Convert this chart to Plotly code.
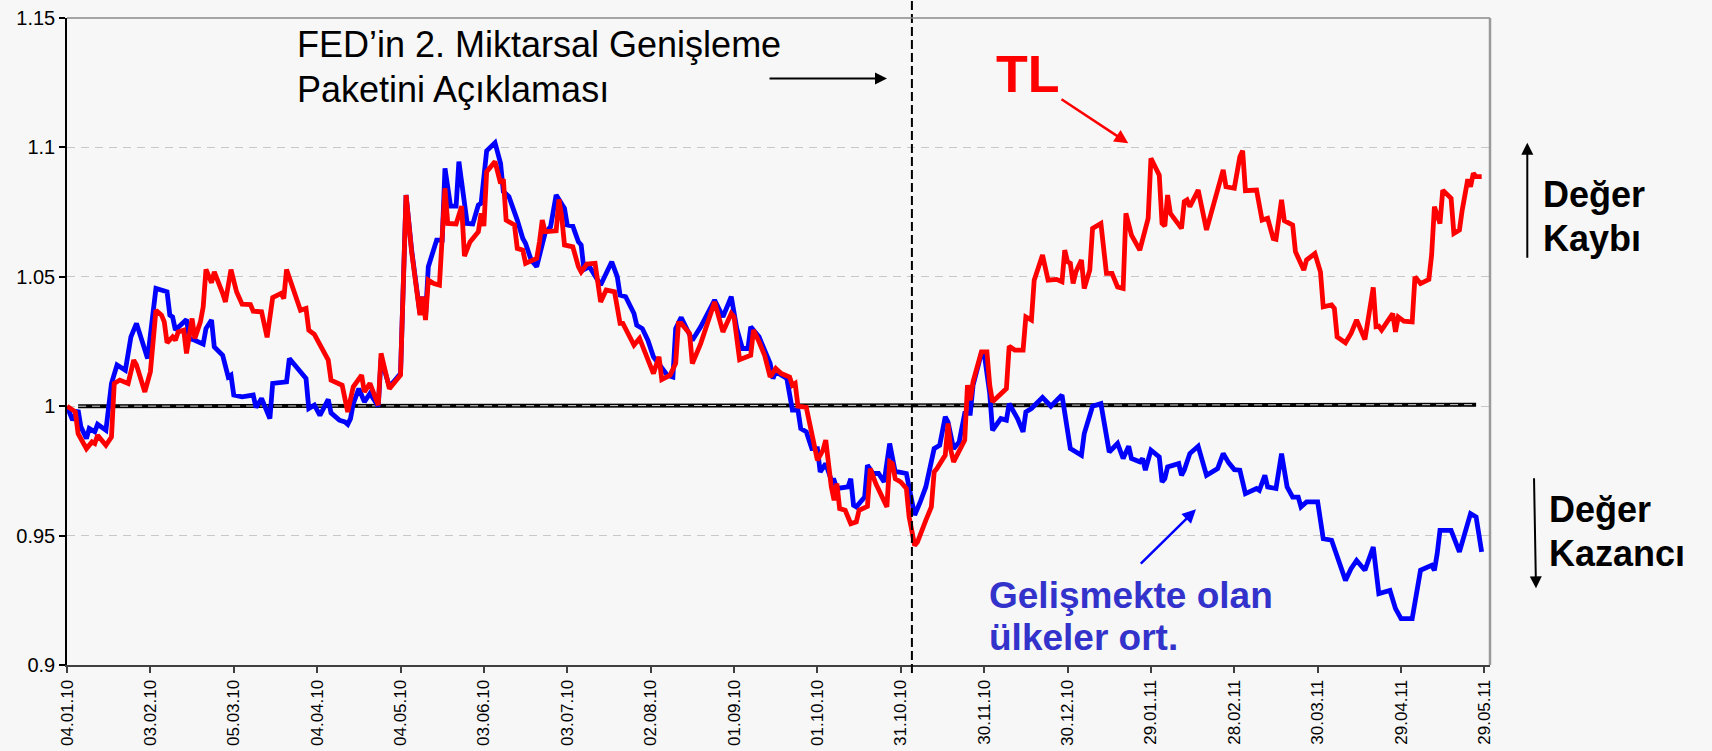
import pandas as pd
import plotly.graph_objects as go

# ---------------- data ----------------
start_date = "2010-01-04"
x_range_end = "2011-05-31"
tick_step_days = 30
fed_qe2_date = "2010-11-04"

blue_days = [0, 2, 4, 5, 7, 8, 10, 11, 14, 16, 18, 21, 23, 25, 29, 31, 32, 36, 37, 38, 39, 43, 44, 46, 49, 50, 52, 53,
             56, 58, 59, 60, 63, 67, 68, 70, 73, 74, 79, 80, 86, 87, 89, 91, 94, 95, 98, 100, 101, 102, 103, 105, 107,
             109, 112, 113, 116, 120, 122,
             124, 127, 128, 129, 130, 133, 135, 136, 138, 140, 141, 142, 144, 146, 148, 149, 151, 154, 156, 157, 159,
             162, 164, 165, 167, 169, 172, 174, 176, 179, 180, 182, 184, 185, 186, 188, 192, 196, 198, 199, 201, 204,
             205, 207, 209, 211, 212, 214, 216, 218, 219, 221, 225, 228, 230, 233, 236, 239, 241, 243, 245, 246, 249,
             253, 254, 255, 259, 261, 263, 264, 266, 268, 270, 271, 273, 275, 276, 277, 281, 282, 283, 284, 287, 288,
             290, 292, 294, 296, 298, 299, 302, 303, 305, 307, 309, 312, 314, 316, 317, 319, 321, 323, 325, 326, 329,
             330, 332, 333, 336, 338, 339, 342, 344, 345, 347, 351, 354, 358, 361, 365, 366, 369, 372, 375, 378,
             380, 382, 383, 386, 387, 388, 390, 393, 394, 395, 396, 400, 401, 402, 404, 407, 410, 414, 416, 418, 420,
             422, 424, 428, 429, 431, 432, 435, 437, 439, 441, 443, 444, 446, 450, 452, 455, 457, 460, 462, 464, 467,
             470, 472, 476, 478, 480, 484, 485, 487, 491, 492, 493, 494, 498, 501, 505, 507, 509]
blue_vals = [1.0000, 0.9946, 0.9985, 0.9920, 0.9875, 0.9914, 0.9901, 0.9930, 0.9907, 1.0088, 1.0159, 1.0139, 1.0268,
             1.0320, 1.0184, 1.0345, 1.0455, 1.0442, 1.0352, 1.0345, 1.0294, 1.0335, 1.0262, 1.0255, 1.0240, 1.0300,
             1.0333, 1.0229, 1.0197, 1.0113, 1.0120, 1.0043, 1.0036, 1.0043, 0.9995, 1.0030, 0.9952, 1.0088, 1.0094,
             1.0184, 1.0107, 0.9991, 1.0004, 0.9965, 1.0026, 0.9974, 0.9946, 0.9939, 0.9930, 0.9952, 1.0010, 1.0068,
             1.0017, 1.0049, 1.0000, 1.0184, 1.0075, 1.0126, 1.0816,
             1.0603, 1.0358, 1.0423, 1.0345, 1.0539, 1.0642, 1.0642, 1.0919, 1.0773, 1.0773, 1.0945, 1.0868, 1.0706,
             1.0704, 1.0777, 1.0784, 1.0987, 1.1018, 1.0938, 1.0829, 1.0810, 1.0719, 1.0648, 1.0629, 1.0565, 1.0539,
             1.0668, 1.0694, 1.0816, 1.0764, 1.0700, 1.0696, 1.0635, 1.0623, 1.0528, 1.0539, 1.0468, 1.0558, 1.0500,
             1.0429, 1.0423, 1.0358, 1.0313, 1.0300, 1.0255, 1.0191, 1.0178, 1.0152, 1.0120, 1.0113, 1.0300, 1.0343,
             1.0255, 1.0307, 1.0345, 1.0410, 1.0345, 1.0423, 1.0300, 1.0223, 1.0223, 1.0307, 1.0268,
             1.0165, 1.0107, 1.0133, 1.0107, 0.9985, 0.9985, 0.9914, 0.9901, 0.9836, 0.9836, 0.9746, 0.9778, 0.9714,
             0.9714, 0.9682, 0.9688, 0.9720, 0.9617, 0.9611, 0.9649, 0.9772, 0.9740, 0.9740, 0.9707, 0.9856, 0.9746,
             0.9746, 0.9740, 0.9682, 0.9579, 0.9630, 0.9688, 0.9836, 0.9849, 0.9959, 0.9939, 0.9836, 0.9862, 0.9972,
             0.9972, 1.0081, 1.0204, 1.0204, 1.0049, 0.9907, 0.9952, 0.9946, 1.0010, 0.9952, 0.9901, 0.9978, 0.9991,
             1.0034, 1.0000, 1.0043, 0.9836, 0.9810, 0.9894, 1.0000, 1.0010, 0.9823, 0.9856,
             0.9798, 0.9845, 0.9798, 0.9785, 0.9798, 0.9753, 0.9830, 0.9804, 0.9707, 0.9720, 0.9765, 0.9778, 0.9733,
             0.9753, 0.9817, 0.9845, 0.9733, 0.9759, 0.9817, 0.9781, 0.9755, 0.9753, 0.9662, 0.9682, 0.9675, 0.9733,
             0.9688, 0.9682, 0.9817, 0.9688, 0.9649, 0.9649, 0.9611, 0.9630, 0.9630, 0.9488, 0.9482, 0.9417, 0.9327,
             0.9372, 0.9404, 0.9366, 0.9456, 0.9276, 0.9288, 0.9218, 0.9179, 0.9179, 0.9237, 0.9366, 0.9385, 0.9366,
             0.9430, 0.9520, 0.9520, 0.9437, 0.9585, 0.9572, 0.9437]

red_days = [0, 3, 4, 7, 9, 10, 11, 14, 16, 17, 19, 22, 24, 25, 28, 30, 32, 34, 35, 36, 38, 39, 40, 42, 43, 45, 46, 48,
            49, 50, 52, 53, 56, 57, 59, 61, 63, 66, 67, 70, 72, 74, 77, 78, 79, 82, 84, 86, 87, 89, 92, 94, 95, 99, 101,
            103, 106, 107, 109, 111, 112, 113, 116, 120, 122,
            124, 127, 128, 129, 130, 132, 134, 136, 137, 140, 142, 143, 145, 148, 149, 150, 151, 154, 156, 157, 158,
            161, 162, 164, 165, 169, 170, 171, 172, 176, 177, 178, 179, 182, 184, 185, 187, 190, 192, 194, 197, 198,
            199, 200, 204, 206, 208, 211, 213, 214, 217, 219, 220, 221, 224, 225, 228, 233, 236, 239, 240, 242, 246,
            247, 249,
            251, 253, 255, 257, 260, 261, 262, 263, 266, 268, 270, 272, 273, 275, 276, 277, 278, 280, 282, 284, 285,
            288, 289, 291, 295, 296, 297, 298, 300, 302, 303, 305, 306, 309, 311, 312, 313, 316, 317, 318, 319, 323,
            324, 325, 326, 329, 331, 332, 333, 338, 339, 341, 344, 345, 347, 348, 351, 353, 356, 358, 359, 360, 361,
            362, 363, 365, 366, 368, 369, 372, 374, 376, 378,
            380, 381, 383, 386, 389, 390, 393, 394, 395, 396, 397, 399, 401, 402, 403, 404, 407, 410, 414, 416, 417,
            420, 422, 423, 424, 427, 428, 430, 431, 432, 434, 435, 437, 438, 441, 442, 445, 446, 449, 451, 452, 455,
            456, 457, 460, 462, 464, 467, 470, 471, 472, 473, 477, 478, 479, 481, 484, 485, 487, 490, 491, 492, 494,
            495, 498, 499, 501, 502, 504, 505, 506, 507, 509]
red_vals = [1.0000, 0.9978, 0.9894, 0.9836, 0.9862, 0.9856, 0.9888, 0.9849, 0.9881, 1.0088, 1.0101, 1.0088, 1.0178,
            1.0159, 1.0055, 1.0133, 1.0371, 1.0352, 1.0326, 1.0245, 1.0268, 1.0255, 1.0287, 1.0294, 1.0204, 1.0339,
            1.0262, 1.0326, 1.0384, 1.0528, 1.0477, 1.0519, 1.0436, 1.0403, 1.0528, 1.0442, 1.0394, 1.0393, 1.0367,
            1.0365, 1.0266, 1.0420, 1.0436, 1.0416, 1.0528, 1.0436, 1.0371, 1.0378, 1.0294, 1.0278, 1.0217, 1.0178,
            1.0101, 1.0081, 0.9978, 1.0075, 1.0120, 1.0055, 1.0088, 1.0026, 1.0004, 1.0204, 1.0068, 1.0120, 1.0816,
            1.0597, 1.0352, 1.0423, 1.0333, 1.0487, 1.0474, 1.0468, 1.0842, 1.0706, 1.0704, 1.0773, 1.0580, 1.0635,
            1.0674, 1.0745, 1.0696, 1.0906, 1.0945, 1.0861, 1.0877, 1.0719, 1.0700, 1.0610, 1.0603, 1.0552, 1.0571,
            1.0635, 1.0719, 1.0674, 1.0678, 1.0799, 1.0732, 1.0623, 1.0616, 1.0539, 1.0519, 1.0549, 1.0552, 1.0403,
            1.0449, 1.0442, 1.0378, 1.0320, 1.0320, 1.0236, 1.0262, 1.0204, 1.0126, 1.0191, 1.0103, 1.0120, 1.0165,
            1.0320, 1.0320, 1.0281, 1.0165, 1.0242, 1.0403, 1.0287, 1.0358, 1.0345, 1.0180, 1.0197, 1.0294, 1.0249,
            1.0197, 1.0113, 1.0146, 1.0126, 1.0113, 1.0081, 1.0088, 1.0000, 0.9995, 0.9894, 0.9791, 0.9830, 0.9869,
            0.9688, 0.9637, 0.9701, 0.9604, 0.9598, 0.9546, 0.9553, 0.9598, 0.9613, 0.9759, 0.9701, 0.9611, 0.9785,
            0.9778, 0.9720, 0.9707, 0.9682, 0.9572, 0.9462, 0.9475, 0.9559, 0.9611, 0.9746, 0.9759, 0.9811, 0.9933,
            0.9830, 0.9785, 0.9869, 1.0081, 1.0023, 1.0094, 1.0210, 1.0210, 1.0081, 1.0017, 1.0068, 1.0232, 1.0217,
            1.0217, 1.0345, 1.0333, 1.0487, 1.0584, 1.0487, 1.0490, 1.0481, 1.0603, 1.0558, 1.0552, 1.0474, 1.0519,
            1.0565, 1.0455, 1.0526, 1.0687, 1.0706, 1.0513, 1.0513, 1.0461,
            1.0455, 1.0745, 1.0661, 1.0603, 1.0726, 1.0958, 1.0893, 1.0706, 1.0696, 1.0816, 1.0745, 1.0713, 1.0687,
            1.0790, 1.0797, 1.0771, 1.0835, 1.0681, 1.0829, 1.0913, 1.0848, 1.0842, 1.0964, 1.0987, 1.0833, 1.0833,
            1.0835, 1.0719, 1.0722, 1.0726, 1.0648, 1.0645, 1.0797, 1.0717, 1.0700, 1.0597, 1.0526, 1.0565, 1.0590,
            1.0519, 1.0384, 1.0391, 1.0378, 1.0268, 1.0245, 1.0281, 1.0333, 1.0258, 1.0459, 1.0307, 1.0309, 1.0294,
            1.0358, 1.0287, 1.0345, 1.0329, 1.0326, 1.0500, 1.0474, 1.0490, 1.0584, 1.0771, 1.0706, 1.0835, 1.0803,
            1.0668, 1.0681, 1.0758, 1.0877, 1.0848, 1.0900, 1.0887, 1.0887]

base_days = [4, 507]
base_vals = [1.0, 1.0006]

ytick_vals = [0.9, 0.95, 1.0, 1.05, 1.1, 1.15]
ytick_text = ["0.9", "0.95", "1", "1.05", "1.1", "1.15"]
y_range = [0.9, 1.15]

fed_lines = ["FED’in 2. Miktarsal Genişleme", "Paketini Açıklaması"]
tl_label = "TL"
em_lines = ["Gelişmekte olan", "ülkeler ort."]
loss_lines = ["Değer", "Kaybı"]
gain_lines = ["Değer", "Kazancı"]

# ---------------- layout helpers ----------------
W, H = 1712, 751
ML, MR, MT, MB = 67, 222, 18, 86
PW, PH = W - ML - MR, H - MT - MB
BG = "#f7f7f7"
FONT = "Liberation Sans, Arial, sans-serif"


def px(x):
    return (x - ML) / PW


def py(y):
    return (H - MB - y) / PH


def to_dates(days):
    return pd.Timestamp(start_date) + pd.to_timedelta(days, unit="D")


fig = go.Figure()

fig.add_trace(go.Scatter(x=to_dates(base_days), y=base_vals, mode="lines",
                         line=dict(color="black", width=4), hoverinfo="skip", showlegend=False))
fig.add_trace(go.Scatter(x=to_dates(base_days), y=base_vals, mode="lines",
                         line=dict(color="#d8d8d8", width=1, dash="8px,6px"), hoverinfo="skip", showlegend=False))
fig.add_trace(go.Scatter(x=to_dates(blue_days), y=blue_vals, mode="lines",
                         line=dict(color="#0000ff", width=4.8), name="Gelişmekte olan ülkeler ort.",
                         showlegend=False))
fig.add_trace(go.Scatter(x=to_dates(red_days), y=red_vals, mode="lines",
                         line=dict(color="#ff0000", width=4.8), name="TL", showlegend=False))

annotations = []


def text_ann(txt, x, yc, size, color, bold=False):
    annotations.append(dict(
        text=f"<b>{txt}</b>" if bold else txt, x=px(x), y=py(yc), xref="paper", yref="paper",
        xanchor="left", yanchor="middle", showarrow=False,
        font=dict(family=FONT, size=size, color=color)))


def arrow_ann(x_tail, y_tail, x_head, y_head, color, width, size=1.0):
    annotations.append(dict(
        text="", x=px(x_head), y=py(y_head), xref="paper", yref="paper",
        ax=x_tail - x_head, ay=y_tail - y_head, axref="pixel", ayref="pixel",
        showarrow=True, arrowhead=2, arrowsize=size, arrowwidth=width, arrowcolor=color))


text_ann(fed_lines[0], 295, 44.5, 36, "black")
text_ann(fed_lines[1], 295, 89.5, 36, "black")
text_ann(tl_label, 994, 73.5, 52, "#ff0000", bold=True)
text_ann(em_lines[0], 987, 595, 37, "#3333cc", bold=True)
text_ann(em_lines[1], 987, 637, 37, "#3333cc", bold=True)
text_ann(loss_lines[0], 1541, 194, 36, "black", bold=True)
text_ann(loss_lines[1], 1541, 238, 36, "black", bold=True)
text_ann(gain_lines[0], 1547, 509, 36, "black", bold=True)
text_ann(gain_lines[1], 1547, 553, 36, "black", bold=True)

arrow_ann(768, 78.6, 887, 78.6, "black", 2, 1.2)
arrow_ann(1060, 98.3, 1128.3, 143.3, "#ff0000", 2.5, 1.1)
arrow_ann(1139.3, 565, 1196, 509.3, "#0000ff", 2.5, 1.1)
arrow_ann(1527.3, 259.3, 1527.3, 142.7, "black", 2, 1.2)
arrow_ann(1534, 476.7, 1536, 588.3, "black", 2, 1.2)

shapes = [
    dict(type="line", xref="x", yref="paper", x0=fed_qe2_date, x1=fed_qe2_date,
         y0=py(673), y1=py(0), line=dict(color="black", width=2, dash="9px,4px")),
    dict(type="line", xref="paper", yref="paper", x0=0, x1=1, y0=1, y1=1,
         line=dict(color="#8a8a8a", width=1.5)),
    dict(type="line", xref="paper", yref="paper", x0=1, x1=1, y0=0, y1=1,
         line=dict(color="#9a9a9a", width=2.5)),
]

fig.update_layout(
    width=W, height=H,
    margin=dict(l=ML, r=MR, t=MT, b=MB, pad=0),
    paper_bgcolor=BG, plot_bgcolor=BG,
    showlegend=False,
    annotations=annotations,
    shapes=shapes,
    font=dict(family=FONT, color="black"),
    xaxis=dict(
        type="date", range=[start_date, x_range_end], automargin=False,
        tick0=start_date, dtick=tick_step_days * 86400000, tickformat="%d.%m.%y",
        tickangle=-90, ticks="outside", ticklen=6, tickwidth=1.5, tickcolor="#404040",
        showline=True, linecolor="#404040", linewidth=2, showgrid=False, zeroline=False,
        tickfont=dict(family=FONT, size=17, color="black"),
    ),
    yaxis=dict(
        range=y_range, tickvals=ytick_vals, ticktext=ytick_text, automargin=False,
        ticks="outside", ticklen=6, tickwidth=1.5, tickcolor="black",
        showline=True, linecolor="black", linewidth=1.5,
        showgrid=True, gridcolor="#c8c8c8", gridwidth=1, griddash="8px,6px", zeroline=False,
        tickfont=dict(family=FONT, size=20, color="black"),
    ),
)

fig.write_html("out.html", config={"displayModeBar": False},
               post_script="document.body.style.margin='0px';document.body.style.background='" + BG + "';")
